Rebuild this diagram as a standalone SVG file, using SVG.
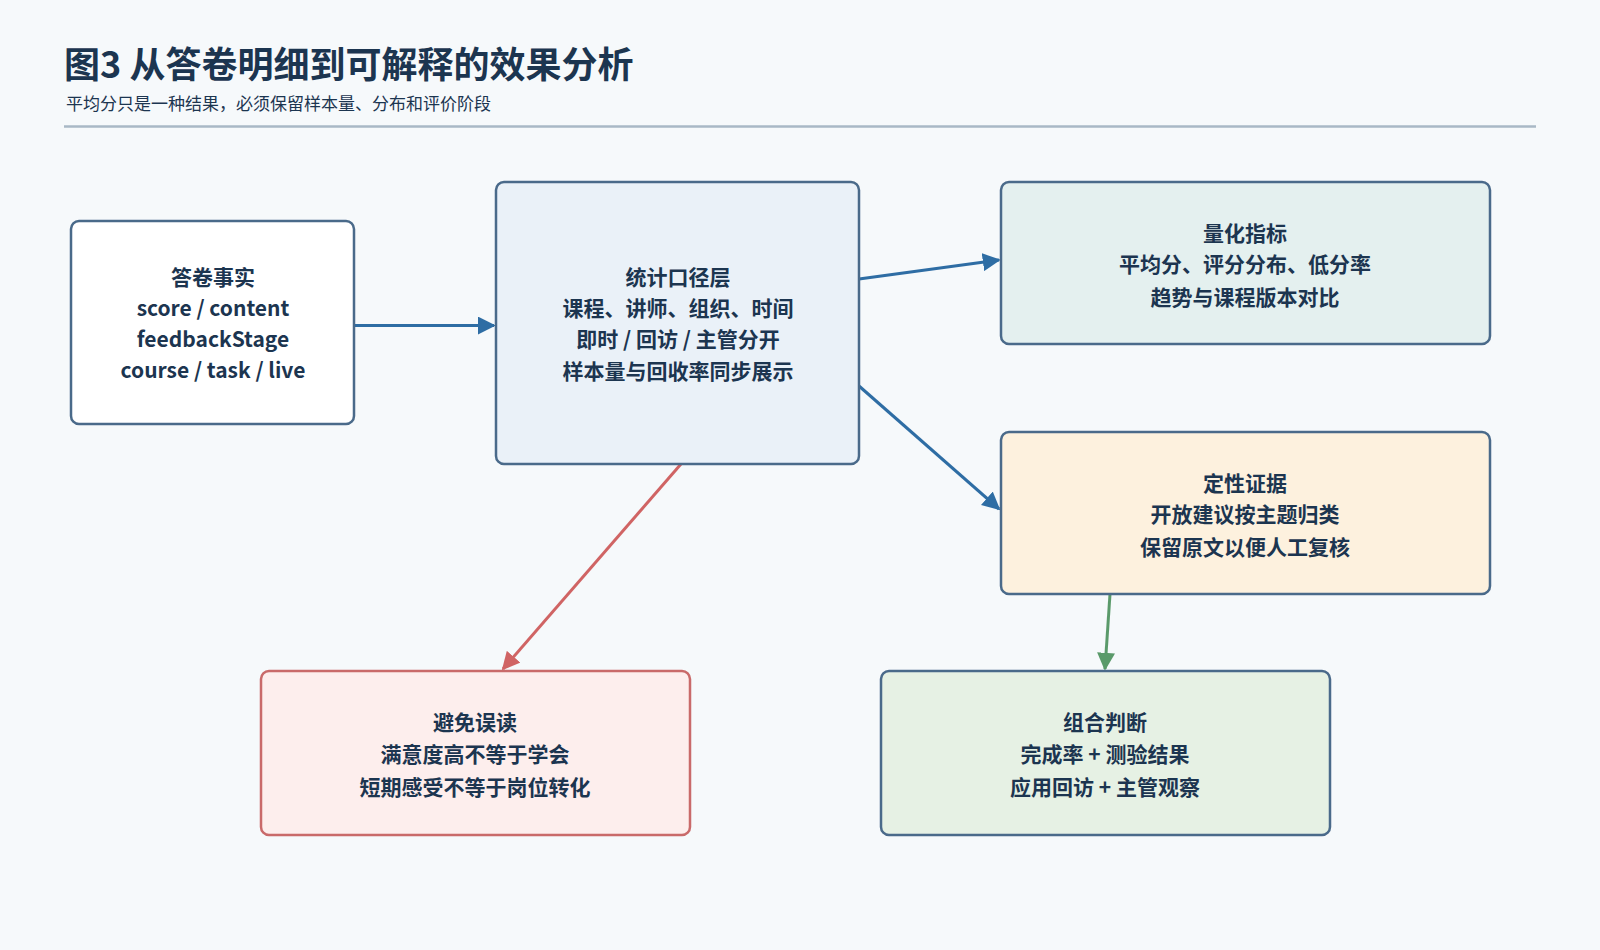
<svg xmlns="http://www.w3.org/2000/svg" width="1600" height="950" viewBox="0 0 1600 950">
<style>
text{font-family:"Noto Sans CJK SC","Noto Sans",sans-serif;fill:#1c3550}
.t{font-size:21px;font-weight:bold;text-anchor:middle;dominant-baseline:central}
.b{stroke-width:2.5}
.c{fill:none;stroke-width:3}
</style>
<defs>
<marker id="ab" viewBox="0 0 10 10" refX="9" refY="5" markerWidth="6" markerHeight="6" orient="auto"><path d="M0,0L10,5L0,10z" fill="#2e6da4"/></marker>
<marker id="ar" viewBox="0 0 10 10" refX="9" refY="5" markerWidth="6" markerHeight="6" orient="auto"><path d="M0,0L10,5L0,10z" fill="#d06464"/></marker>
<marker id="ag" viewBox="0 0 10 10" refX="9" refY="5" markerWidth="6" markerHeight="6" orient="auto"><path d="M0,0L10,5L0,10z" fill="#5a9a6a"/></marker>
</defs>
<rect width="1600" height="950" fill="#f6f9fb"/>
<text x="64" y="78" font-size="36" font-weight="bold" fill="#17324f">图3  从答卷明细到可解释的效果分析</text>
<text x="66" y="110" font-size="17" fill="#6a7c8e">平均分只是一种结果，必须保留样本量、分布和评价阶段</text>
<line x1="64" y1="126.5" x2="1536" y2="126.5" stroke="#a9b8c6" stroke-width="2.5"/>
<g id="connectors">
<line class="c" x1="354" y1="325.5" x2="494" y2="325.5" stroke="#2e6da4" marker-end="url(#ab)"/>
<line class="c" x1="859" y1="279" x2="999" y2="260" stroke="#2e6da4" marker-end="url(#ab)"/>
<line class="c" x1="859" y1="386" x2="999" y2="509" stroke="#2e6da4" marker-end="url(#ab)"/>
<line class="c" x1="681" y1="464" x2="503" y2="669" stroke="#d06464" marker-end="url(#ar)"/>
<line class="c" x1="1110" y1="594" x2="1105" y2="669" stroke="#5a9a6a" marker-end="url(#ag)"/>
</g>
<g id="n1"><rect class="b" x="71" y="221" width="283" height="203" rx="8" fill="#ffffff" stroke="#4a6a8a"/>
<text class="t" x="213" y="276">答卷事实</text><text class="t" x="213" y="307">score / content</text><text class="t" x="213" y="338">feedbackStage</text><text class="t" x="213" y="369">course / task / live</text></g>
<g id="n2"><rect class="b" x="496" y="182" width="363" height="282" rx="8" fill="#eaf1f8" stroke="#4a6a8a"/>
<text class="t" x="678" y="276">统计口径层</text><text class="t" x="678" y="307">课程、讲师、组织、时间</text><text class="t" x="678" y="338">即时 / 回访 / 主管分开</text><text class="t" x="678" y="370">样本量与回收率同步展示</text></g>
<g id="n3"><rect class="b" x="1001" y="182" width="489" height="162" rx="8" fill="#e4f0ef" stroke="#4a6a8a"/>
<text class="t" x="1245" y="232">量化指标</text><text class="t" x="1245" y="263">平均分、评分分布、低分率</text><text class="t" x="1245" y="296">趋势与课程版本对比</text></g>
<g id="n4"><rect class="b" x="1001" y="432" width="489" height="162" rx="8" fill="#fdf1de" stroke="#4a6a8a"/>
<text class="t" x="1245" y="482">定性证据</text><text class="t" x="1245" y="513">开放建议按主题归类</text><text class="t" x="1245" y="546">保留原文以便人工复核</text></g>
<g id="n5"><rect class="b" x="261" y="671" width="429" height="164" rx="8" fill="#fdeeed" stroke="#c96a6a"/>
<text class="t" x="475" y="721">避免误读</text><text class="t" x="475" y="753">满意度高不等于学会</text><text class="t" x="475" y="786">短期感受不等于岗位转化</text></g>
<g id="n6"><rect class="b" x="881" y="671" width="449" height="164" rx="8" fill="#e6f1e4" stroke="#4a6a8a"/>
<text class="t" x="1105" y="721">组合判断</text><text class="t" x="1105" y="753">完成率 + 测验结果</text><text class="t" x="1105" y="786">应用回访 + 主管观察</text></g>
</svg>
